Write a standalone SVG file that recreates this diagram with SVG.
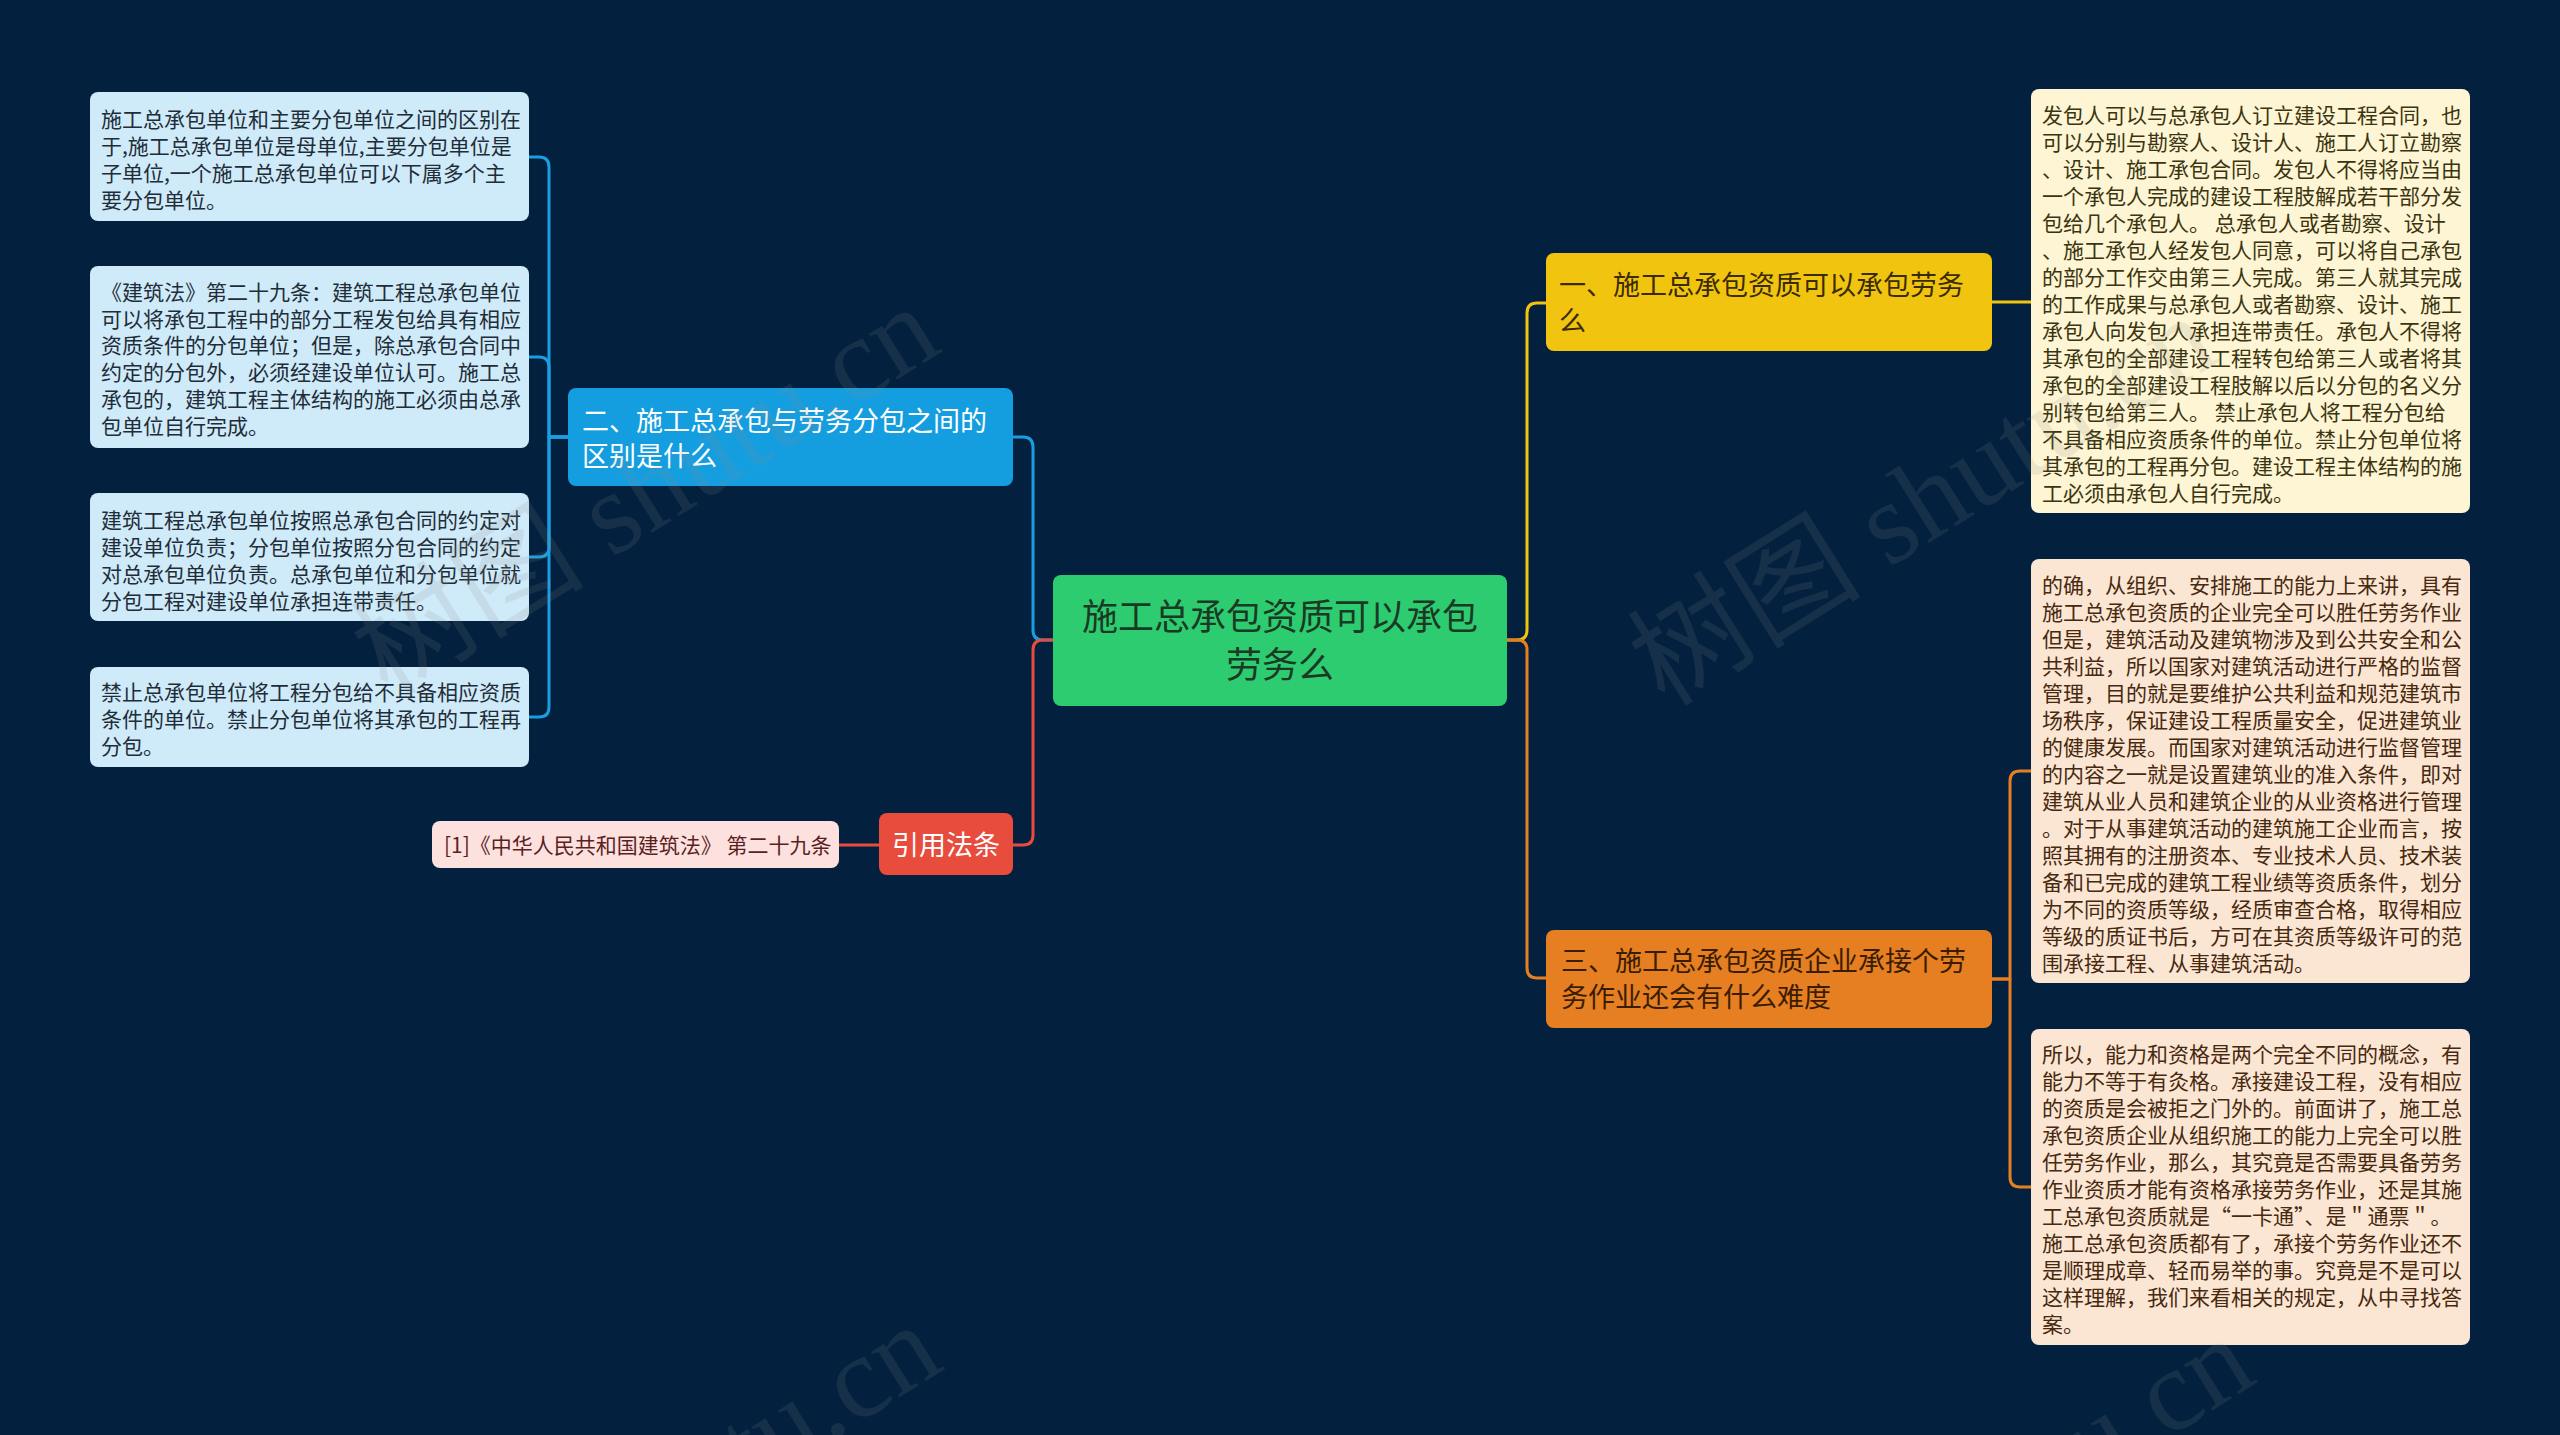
<svg xmlns="http://www.w3.org/2000/svg" width="2560" height="1435" viewBox="0 0 2560 1435">
<style>
.bg{fill:#03203f}
.conn path{fill:none;stroke-width:3;stroke-linecap:round;stroke-linejoin:round}
.c-blue{stroke:#1a9ee2}
.c-red{stroke:#e74c3c}
.c-yellow{stroke:#f1c40f}
.c-orange{stroke:#e67e22}
text{font-family:"Noto Sans CJK SC","Noto Sans",sans-serif}
.t21{font-size:21px}
.lbox{fill:#cfeaf8}
.ltxt{fill:#1f2d38}
.ybox{fill:#fdf5d3}
.ytxt{fill:#3b3410}
.obox{fill:#fbe6d4}
.otxt{fill:#47290f}
.wm{font-family:"Liberation Serif","Noto Sans CJK SC",serif;font-size:117px;fill:#8a8a8a;fill-opacity:0.15}
</style>
<rect class="bg" x="0" y="0" width="2560" height="1435"/>

<g id="connectors" class="conn">
<path class="c-blue" d="M1053,640 H1043 Q1033,640 1033,630 V447 Q1033,437 1023,437 H1013"/>
<path class="c-red" d="M1053,640 H1043 Q1033,640 1033,650 V835 Q1033,845 1023,845 H1013"/>
<path class="c-red" d="M879,845 H839"/>
<path class="c-blue" d="M568,437 H549 V167 Q549,157 539,157 H529"/>
<path class="c-blue" d="M568,437 H549 V367 Q549,357 539,357 H529"/>
<path class="c-blue" d="M568,437 H549 V547 Q549,557 539,557 H529"/>
<path class="c-blue" d="M568,437 H549 V707 Q549,717 539,717 H529"/>
<path class="c-yellow" d="M1507,640 H1517 Q1527,640 1527,630 V313 Q1527,303 1537,303 H1546"/>
<path class="c-orange" d="M1507,640 H1517 Q1527,640 1527,650 V968 Q1527,978 1537,978 H1546"/>
<path class="c-yellow" d="M1992,302 H2031"/>
<path class="c-orange" d="M1992,979 H2010 V781 Q2010,771 2020,771 H2031"/>
<path class="c-orange" d="M1992,979 H2010 V1177 Q2010,1187 2020,1187 H2031"/>
</g>

<g id="root">
<rect x="1053" y="575" width="454" height="131" rx="8" fill="#2ecc71"/>
<text x="1280" y="630" font-size="36" fill="#1a3a24" text-anchor="middle">施工总承包资质可以承包</text>
<text x="1280" y="678" font-size="36" fill="#1a3a24" text-anchor="middle">劳务么</text>
</g>

<g id="n-two">
<rect x="568" y="388" width="445" height="98" rx="8" fill="#149ee0"/>
<text x="582" y="431" font-size="27" fill="#ffffff">二、施工总承包与劳务分包之间的</text>
<text x="582" y="466" font-size="27" fill="#ffffff">区别是什么</text>
</g>

<g id="n-law">
<rect x="879" y="813" width="134" height="62" rx="8" fill="#e74c3c"/>
<text x="946" y="855" font-size="27" fill="#ffffff" text-anchor="middle">引用法条</text>
</g>

<g id="n-law-ref">
<rect x="432" y="821" width="407" height="47" rx="8" fill="#fde1df"/>
<text x="444" y="853" class="t21" fill="#5a1f1f">[1]《中华人民共和国建筑法》 第二十九条</text>
</g>

<g id="n-one">
<rect x="1546" y="253" width="446" height="98" rx="8" fill="#f1c40f"/>
<text x="1559" y="295" font-size="27" fill="#3a2c00">一、施工总承包资质可以承包劳务</text>
<text x="1559" y="331" font-size="27" fill="#3a2c00">么</text>
</g>

<g id="n-three">
<rect x="1546" y="930" width="446" height="98" rx="8" fill="#e67e22"/>
<text x="1561" y="971" font-size="27" fill="#3a1d00">三、施工总承包资质企业承接个劳</text>
<text x="1561" y="1007" font-size="27" fill="#3a1d00">务作业还会有什么难度</text>
</g>

<g id="leaf-l1">
<rect class="lbox" x="90" y="92" width="439" height="129" rx="8"/>
<text class="t21 ltxt" x="101" y="126.5"><tspan x="101">施工总承包单位和主要分包单位之间的区别在</tspan><tspan x="101" dy="27">于,施工总承包单位是母单位,主要分包单位是</tspan><tspan x="101" dy="27">子单位,一个施工总承包单位可以下属多个主</tspan><tspan x="101" dy="27">要分包单位。</tspan></text>
</g>

<g id="leaf-l2">
<rect class="lbox" x="90" y="266" width="439" height="182" rx="8"/>
<text class="t21 ltxt" x="101" y="300"><tspan x="101">《建筑法》第二十九条：建筑工程总承包单位</tspan><tspan x="101" dy="26.7">可以将承包工程中的部分工程发包给具有相应</tspan><tspan x="101" dy="26.7">资质条件的分包单位；但是，除总承包合同中</tspan><tspan x="101" dy="26.7">约定的分包外，必须经建设单位认可。施工总</tspan><tspan x="101" dy="26.7">承包的，建筑工程主体结构的施工必须由总承</tspan><tspan x="101" dy="26.7">包单位自行完成。</tspan></text>
</g>

<g id="leaf-l3">
<rect class="lbox" x="90" y="493" width="439" height="128" rx="8"/>
<text class="t21 ltxt" x="101" y="528"><tspan x="101">建筑工程总承包单位按照总承包合同的约定对</tspan><tspan x="101" dy="27">建设单位负责；分包单位按照分包合同的约定</tspan><tspan x="101" dy="27">对总承包单位负责。总承包单位和分包单位就</tspan><tspan x="101" dy="27">分包工程对建设单位承担连带责任。</tspan></text>
</g>

<g id="leaf-l4">
<rect class="lbox" x="90" y="667" width="439" height="100" rx="8"/>
<text class="t21 ltxt" x="101" y="700"><tspan x="101">禁止总承包单位将工程分包给不具备相应资质</tspan><tspan x="101" dy="27">条件的单位。禁止分包单位将其承包的工程再</tspan><tspan x="101" dy="27">分包。</tspan></text>
</g>

<g id="leaf-r1">
<rect class="ybox" x="2031" y="89" width="439" height="424" rx="8"/>
<text class="t21 ytxt" x="2042" y="123"><tspan x="2042">发包人可以与总承包人订立建设工程合同，也</tspan><tspan x="2042" dy="27">可以分别与勘察人、设计人、施工人订立勘察</tspan><tspan x="2042" dy="27">、设计、施工承包合同。发包人不得将应当由</tspan><tspan x="2042" dy="27">一个承包人完成的建设工程肢解成若干部分发</tspan><tspan x="2042" dy="27">包给几个承包人。 总承包人或者勘察、设计</tspan><tspan x="2042" dy="27">、施工承包人经发包人同意，可以将自己承包</tspan><tspan x="2042" dy="27">的部分工作交由第三人完成。第三人就其完成</tspan><tspan x="2042" dy="27">的工作成果与总承包人或者勘察、设计、施工</tspan><tspan x="2042" dy="27">承包人向发包人承担连带责任。承包人不得将</tspan><tspan x="2042" dy="27">其承包的全部建设工程转包给第三人或者将其</tspan><tspan x="2042" dy="27">承包的全部建设工程肢解以后以分包的名义分</tspan><tspan x="2042" dy="27">别转包给第三人。 禁止承包人将工程分包给</tspan><tspan x="2042" dy="27">不具备相应资质条件的单位。禁止分包单位将</tspan><tspan x="2042" dy="27">其承包的工程再分包。建设工程主体结构的施</tspan><tspan x="2042" dy="27">工必须由承包人自行完成。</tspan></text>
</g>

<g id="leaf-r2">
<rect class="obox" x="2031" y="559" width="439" height="424" rx="8"/>
<text class="t21 otxt" x="2042" y="593"><tspan x="2042">的确，从组织、安排施工的能力上来讲，具有</tspan><tspan x="2042" dy="27">施工总承包资质的企业完全可以胜任劳务作业</tspan><tspan x="2042" dy="27">但是，建筑活动及建筑物涉及到公共安全和公</tspan><tspan x="2042" dy="27">共利益，所以国家对建筑活动进行严格的监督</tspan><tspan x="2042" dy="27">管理，目的就是要维护公共利益和规范建筑市</tspan><tspan x="2042" dy="27">场秩序，保证建设工程质量安全，促进建筑业</tspan><tspan x="2042" dy="27">的健康发展。而国家对建筑活动进行监督管理</tspan><tspan x="2042" dy="27">的内容之一就是设置建筑业的准入条件，即对</tspan><tspan x="2042" dy="27">建筑从业人员和建筑企业的从业资格进行管理</tspan><tspan x="2042" dy="27">。对于从事建筑活动的建筑施工企业而言，按</tspan><tspan x="2042" dy="27">照其拥有的注册资本、专业技术人员、技术装</tspan><tspan x="2042" dy="27">备和已完成的建筑工程业绩等资质条件，划分</tspan><tspan x="2042" dy="27">为不同的资质等级，经质审查合格，取得相应</tspan><tspan x="2042" dy="27">等级的质证书后，方可在其资质等级许可的范</tspan><tspan x="2042" dy="27">围承接工程、从事建筑活动。</tspan></text>
</g>

<g id="leaf-r3">
<rect class="obox" x="2031" y="1029" width="439" height="316" rx="8"/>
<text class="t21 otxt" x="2042" y="1062"><tspan x="2042">所以，能力和资格是两个完全不同的概念，有</tspan><tspan x="2042" dy="27">能力不等于有灸格。承接建设工程，没有相应</tspan><tspan x="2042" dy="27">的资质是会被拒之门外的。前面讲了，施工总</tspan><tspan x="2042" dy="27">承包资质企业从组织施工的能力上完全可以胜</tspan><tspan x="2042" dy="27">任劳务作业，那么，其究竟是否需要具备劳务</tspan><tspan x="2042" dy="27">作业资质才能有资格承接劳务作业，还是其施</tspan><tspan x="2042" dy="27">工总承包资质就是“一卡通”、是＂通票＂。</tspan><tspan x="2042" dy="27">施工总承包资质都有了，承接个劳务作业还不</tspan><tspan x="2042" dy="27">是顺理成章、轻而易举的事。究竟是不是可以</tspan><tspan x="2042" dy="27">这样理解，我们来看相关的规定，从中寻找答</tspan><tspan x="2042" dy="27">案。</tspan></text>
</g>

<g id="watermark">
<text class="wm" transform="translate(388,698) rotate(-32)">树图 shutu.cn</text>
<text class="wm" transform="translate(1665,708) rotate(-32)">树图 shutu.cn</text>
<text class="wm" transform="translate(390,1716) rotate(-32)">树图 shutu.cn</text>
<text class="wm" transform="translate(1703,1729) rotate(-32)">树图 shutu.cn</text>
</g>
</svg>
